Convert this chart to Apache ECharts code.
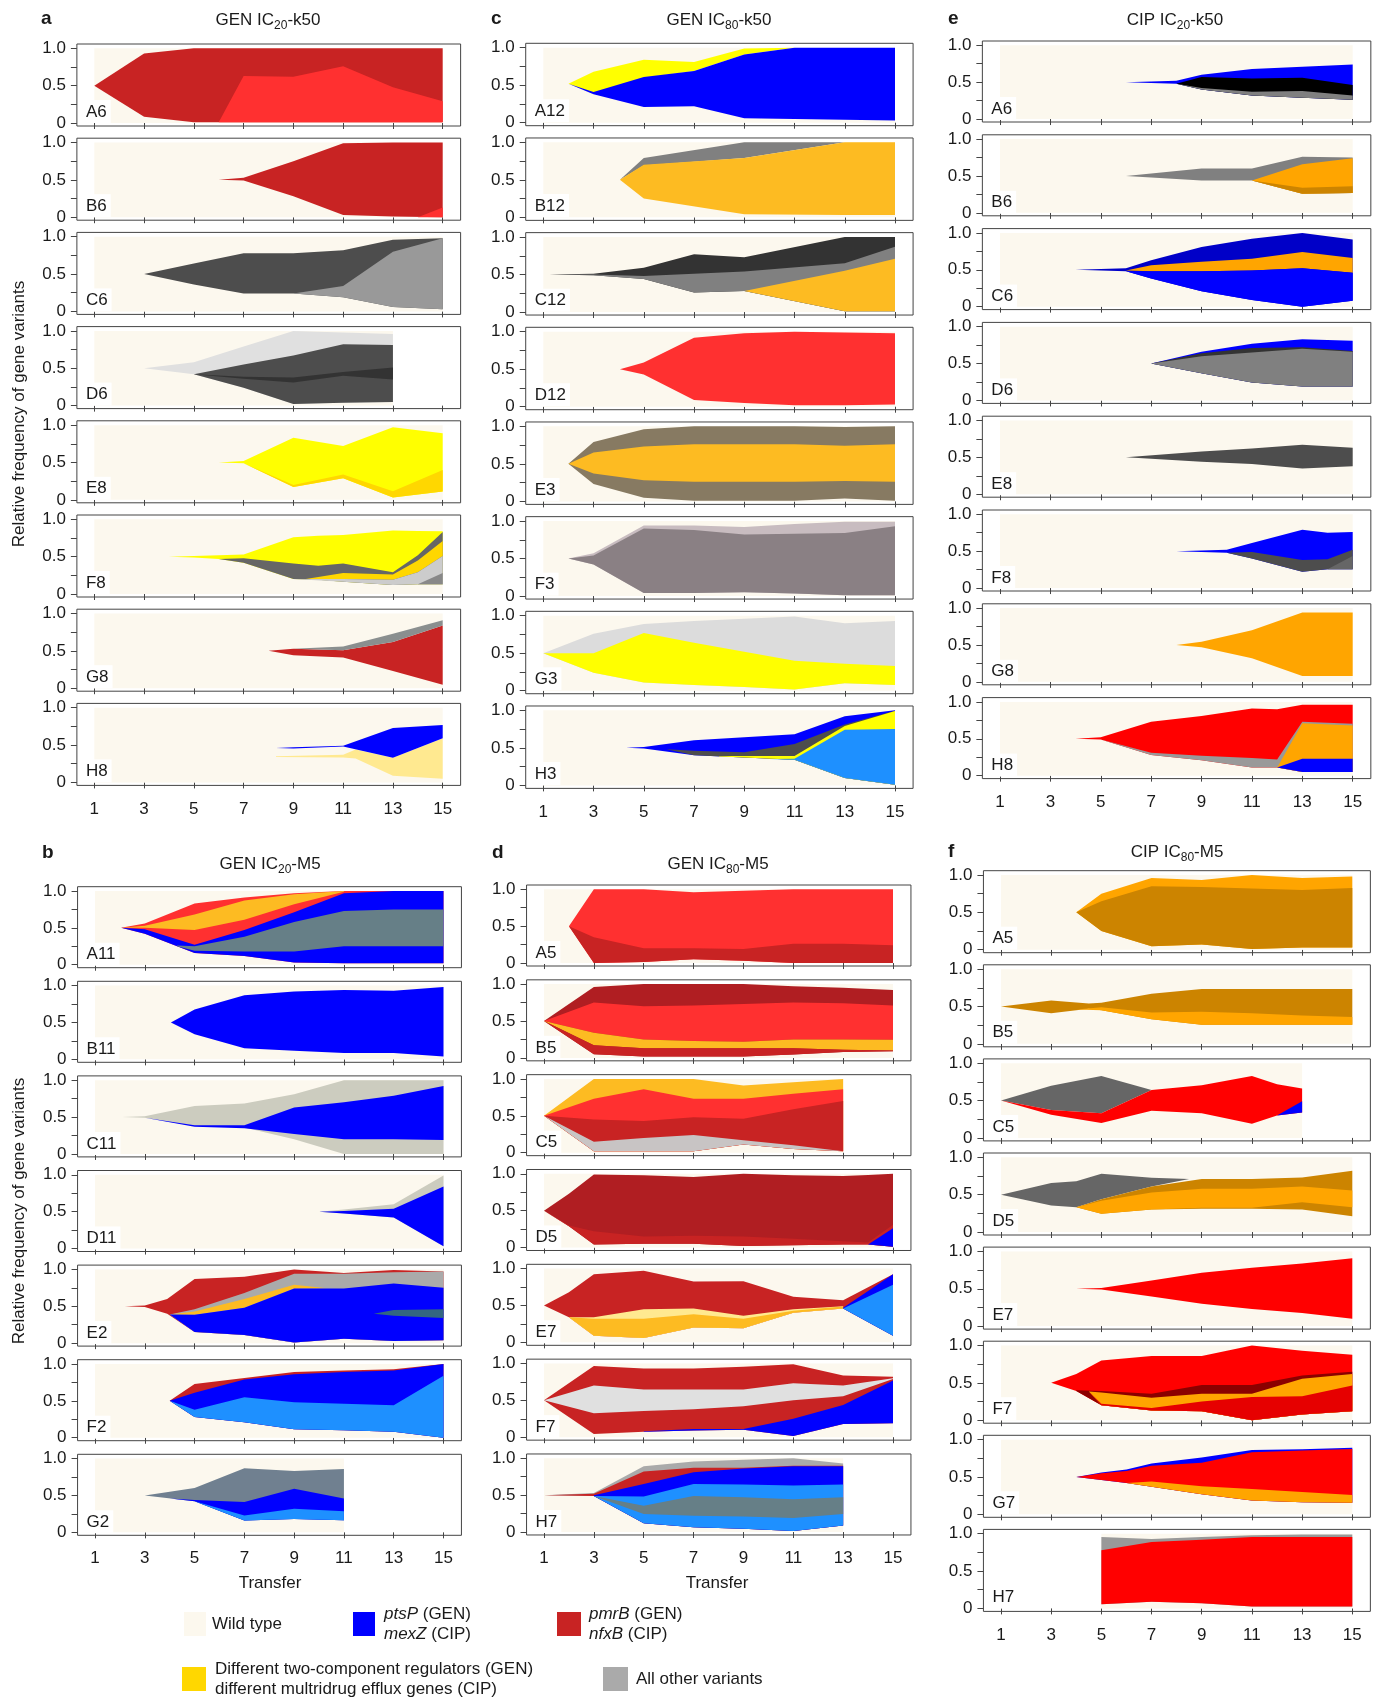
<!DOCTYPE html>
<html><head><meta charset="utf-8">
<script src="https://cdn.jsdelivr.net/npm/echarts@6/dist/echarts.min.js"></script>
<style>html,body{margin:0;padding:0;background:#fff;}#chart{width:1379px;height:1697px;}</style>
</head><body><div id="chart"></div>
<script>
// ---------- axis values ----------
const TRANSFERS = [1,3,5,7,9,11,13,15];
const FREQ_TICKS = [0,0.25,0.5,0.75,1];
const FREQ_LABELS = [0,0.5,1];

// ---------- panel data: band = [variant, transfers, lower freq, upper freq] ----------
// a: GEN IC20-k50
const a_A6 = {label:'A6', wt:[1,15], bands:[
 ['dred',[1,3,5,6,7,9,11,13,15],[0.5,0.085,0.01,0.01,0.01,0.01,0.01,0.01,0.01],[0.5,0.93,1,1,1,1,1,1,1]],
 ['red',[6,7,9,11,13,15],[0.01,0.01,0.01,0.01,0.01,0.01],[0.01,0.63,0.62,0.76,0.48,0.29]]]};
const a_B6 = {label:'B6', wt:[1,15], bands:[
 ['dred',[6,7,9,11,13,15],[0.5,0.49,0.28,0.03,0.01,0],[0.5,0.53,0.75,0.99,1,1]],
 ['red',[14,15],[0,0],[0,0.13]]]};
const a_C6 = {label:'C6', wt:[1,15], bands:[
 ['dgrey',[3,5,7,9,11,13,15],[0.5,0.36,0.24,0.24,0.19,0.06,0.03],[0.5,0.64,0.78,0.78,0.82,0.96,0.98]],
 ['grey9',[9,11,13,15],[0.24,0.19,0.06,0.03],[0.24,0.34,0.8,0.98]]]};
const a_D6 = {label:'D6', wt:[1,13], bands:[
 ['vlgrey',[3,5,7,9,11,13],[0.5,0.42,0.24,0.02,0.04,0.05],[0.5,0.58,0.79,1.0,0.98,0.96]],
 ['dgrey',[5,7,9,11,13],[0.42,0.24,0.02,0.04,0.05],[0.42,0.55,0.67,0.82,0.81]],
 ['vdgrey',[5,7,9,11,13],[0.42,0.36,0.31,0.40,0.35],[0.42,0.385,0.375,0.45,0.51]]]};
const a_E8 = {label:'E8', wt:[1,15], bands:[
 ['yellow',[6,7,9,11,13,15],[0.5,0.49,0.17,0.29,0.03,0.11],[0.5,0.52,0.83,0.72,0.97,0.89]],
 ['gold',[7,9,11,13,15],[0.49,0.17,0.29,0.03,0.11],[0.49,0.2,0.34,0.115,0.4]]]};
const a_F8 = {label:'F8', wt:[1,15], bands:[
 ['yellow',[4,5,6,7,9,10,11,13,14,15],[0.5,0.49,0.47,0.42,0.2,0.19,0.165,0.12,0.13,0.13],[0.5,0.51,0.52,0.53,0.76,0.78,0.79,0.85,0.845,0.84]],
 ['dgrey6',[6,7,9,10,11,13,14,15],[0.47,0.42,0.2,0.19,0.165,0.12,0.13,0.13],[0.47,0.48,0.41,0.38,0.41,0.29,0.52,0.83]],
 ['gold',[9.5,11,13,14,15],[0.2,0.2,0.19,0.29,0.51],[0.2,0.28,0.26,0.45,0.71]],
 ['lgrey',[9,11,13,14,15],[0.2,0.165,0.12,0.13,0.13],[0.2,0.2,0.19,0.29,0.51]],
 ['mgrey',[14,15],[0.13,0.13],[0.13,0.28]]]};
const a_G8 = {label:'G8', wt:[1,15], bands:[
 ['dred',[8,9,11,13,15],[0.5,0.44,0.41,0.23,0.045],[0.5,0.53,0.51,0.62,0.84]],
 ['ggrey',[9,11,13,15],[0.53,0.51,0.62,0.84],[0.53,0.56,0.73,0.91]]]};
const a_H8 = {label:'H8', wt:[1,15], bands:[
 ['lyellow',[8.3,11,11.5,13,15],[0.34,0.335,0.32,0.09,0.05],[0.35,0.37,0.44,0.33,0.59]],
 ['blue',[8.3,9,11,13,15],[0.46,0.455,0.48,0.33,0.59],[0.46,0.47,0.49,0.73,0.77]]]};

// c: GEN IC80-k50
const c_A12 = {label:'A12', wt:[1,15], bands:[
 ['yellow',[2,3,5,7,9,11],[0.52,0.4,0.6,0.69,0.91,1.0],[0.52,0.68,0.84,0.81,0.99,1.0]],
 ['blue',[2,3,5,7,9,11,13,15],[0.52,0.38,0.21,0.22,0.06,0.05,0.04,0.03],[0.52,0.41,0.61,0.69,0.91,1,1,1]]]};
const c_B12 = {label:'B12', wt:[1,15], bands:[
 ['grey',[4.05,5,9,13],[0.5,0.69,0.79,1.0],[0.5,0.79,1.0,1.0]],
 ['gold2',[4.05,5,9,13,15],[0.5,0.25,0.04,0.03,0.03],[0.5,0.7,0.79,1.0,1.0]]]};
const c_C12 = {label:'C12', wt:[1,15], bands:[
 ['vdgrey',[1.25,3,5,7,9,13,15],[0.5,0.49,0.44,0.26,0.28,0.01,0.01],[0.5,0.51,0.59,0.77,0.73,1.0,1.0]],
 ['grey',[1.25,3,5,7,9,13,15],[0.5,0.49,0.44,0.26,0.28,0.01,0.01],[0.5,0.5,0.48,0.51,0.54,0.65,0.87]],
 ['gold2',[9,13,15],[0.28,0.01,0.01],[0.28,0.55,0.71]]]};
const c_D12 = {label:'D12', wt:[1,15], bands:[
 ['red',[4.05,5,7,9,11,13,15],[0.5,0.43,0.09,0.05,0.02,0.02,0.03],[0.5,0.59,0.92,0.98,1.0,0.99,0.98]]]};
const c_E3 = {label:'E3', wt:[1,15], bands:[
 ['brown',[2,3,5,7,9,11,13,15],[0.5,0.23,0.05,0.01,0.01,0.01,0.04,0.01],[0.5,0.79,0.96,1,1,1,0.99,1]],
 ['gold2',[2,3,5,7,9,11,13,15],[0.5,0.37,0.28,0.26,0.26,0.26,0.27,0.26],[0.5,0.65,0.73,0.76,0.76,0.76,0.74,0.76]]]};
const c_F3 = {label:'F3', wt:[1,15], bands:[
 ['lmauve',[2,3,5,7,9,11,13,15],[0.5,0.42,0.04,0.04,0.05,0.035,0.01,0.01],[0.5,0.57,0.94,0.94,0.92,0.96,0.99,0.99]],
 ['mauve',[2,3,5,7,9,11,13,15],[0.5,0.42,0.04,0.04,0.05,0.035,0.01,0.01],[0.5,0.54,0.9,0.88,0.82,0.83,0.84,0.93]]]};
const c_G3 = {label:'G3', wt:[1,15], bands:[
 ['lgrey2',[1,3,5,7,9,11,13,15],[0.5,0.24,0.11,0.075,0.05,0.015,0.1,0.075],[0.5,0.76,0.89,0.93,0.96,0.99,0.9,0.93]],
 ['yellow',[1,3,5,7,9,11,13,15],[0.5,0.24,0.11,0.075,0.05,0.015,0.1,0.075],[0.5,0.5,0.77,0.64,0.52,0.4,0.36,0.33]]]};
const c_H3 = {label:'H3', wt:[1,15], bands:[
 ['blue',[4.3,5,7,9,11,13,15],[0.5,0.49,0.4,0.37,0.34,0.1,0.01],[0.5,0.51,0.6,0.64,0.68,0.92,1.0]],
 ['dgrey',[5.9,7,9,11,13,15],[0.48,0.4,0.37,0.34,0.1,0.01],[0.48,0.46,0.44,0.55,0.81,0.995]],
 ['yellow',[8,9,11,13,15],[0.385,0.37,0.34,0.1,0.01],[0.39,0.39,0.39,0.79,0.99]],
 ['lblue',[10,11,13,15],[0.35,0.34,0.1,0.01],[0.35,0.355,0.74,0.75]]]};

// e: CIP IC20-k50
const e_A6 = {label:'A6', wt:[1,15], bands:[
 ['blue',[6,7,8,9,11,13,15],[0.5,0.49,0.48,0.4,0.32,0.29,0.26],[0.5,0.51,0.52,0.6,0.68,0.71,0.74]],
 ['black',[8,9,11,13,15],[0.48,0.4,0.32,0.29,0.26],[0.48,0.57,0.55,0.56,0.46]],
 ['grey',[8,9,11,13,15],[0.48,0.4,0.32,0.29,0.26],[0.48,0.42,0.37,0.38,0.32]]]};
const e_B6 = {label:'B6', wt:[1,15], bands:[
 ['grey',[6,9,11,13,15],[0.5,0.44,0.44,0.26,0.27],[0.5,0.6,0.6,0.76,0.75]],
 ['orange',[11,13,15],[0.44,0.26,0.27],[0.44,0.66,0.74]],
 ['dorange',[11,13,15],[0.44,0.26,0.27],[0.44,0.34,0.36]]]};
const e_C6 = {label:'C6', wt:[1,15], bands:[
 ['dblue',[4,6,7,9,11,13,15],[0.5,0.48,0.38,0.21,0.09,0.0,0.08],[0.5,0.52,0.63,0.81,0.92,1.0,0.91]],
 ['orange',[6,7,9,11,13,15],[0.49,0.48,0.48,0.49,0.52,0.46],[0.49,0.56,0.61,0.65,0.74,0.66]],
 ['blue',[6,7,9,11,13,15],[0.48,0.38,0.21,0.09,0.0,0.08],[0.48,0.48,0.48,0.49,0.52,0.46]]]};
const e_D6 = {label:'D6', wt:[1,15], bands:[
 ['blue',[7,9,11,13,15],[0.5,0.37,0.245,0.19,0.19],[0.5,0.66,0.77,0.83,0.81]],
 ['vdgrey',[7,9,11,13,15],[0.5,0.37,0.245,0.19,0.19],[0.5,0.64,0.71,0.72,0.67]],
 ['grey',[7,9,11,13,15],[0.5,0.37,0.245,0.19,0.19],[0.5,0.6,0.65,0.7,0.66]]]};
const e_E8 = {label:'E8', wt:[1,15], bands:[
 ['dgrey',[6,9,11,13,15],[0.5,0.44,0.41,0.35,0.38],[0.5,0.58,0.62,0.67,0.63]]]};
const e_F8 = {label:'F8', wt:[1,15], bands:[
 ['blue',[8,10,11,13,14,15],[0.5,0.48,0.4,0.22,0.255,0.255],[0.5,0.52,0.61,0.79,0.75,0.76]],
 ['dgrey',[10,11,13,14,15],[0.48,0.4,0.22,0.255,0.255],[0.48,0.49,0.38,0.39,0.52]],
 ['dgrey6',[14,15],[0.255,0.255],[0.255,0.435]]]};
const e_G8 = {label:'G8', wt:[1,15], bands:[
 ['orange',[8,9,11,13,15],[0.5,0.47,0.32,0.08,0.08],[0.5,0.545,0.7,0.94,0.94]]]};
const e_H8 = {label:'H8', wt:[1,15], bands:[
 ['cred',[4,5,7,9,11,12,13,15],[0.5,0.49,0.28,0.21,0.11,0.11,0.05,0.05],[0.5,0.52,0.73,0.81,0.91,0.9,0.96,0.96]],
 ['grey9',[5,7,9,11,12,13,15],[0.49,0.28,0.21,0.11,0.11,0.05,0.05],[0.49,0.31,0.27,0.24,0.22,0.73,0.705]],
 ['orange',[12,13,15],[0.11,0.05,0.05],[0.11,0.71,0.68]],
 ['blue',[12,13,15],[0.11,0.05,0.05],[0.11,0.23,0.23]]]};

// b: GEN IC20-M5
const b_A11 = {label:'A11', wt:[1,15], bands:[
 ['red',[2.05,3,5,7,9,11,13,15],[0.5,0.42,0.16,0.12,0.03,0.02,0.02,0.02],[0.5,0.56,0.83,0.91,0.97,1,1,1]],
 ['gold2',[2.05,3,5,7,9,11],[0.5,0.5,0.47,0.61,0.82,0.99],[0.5,0.53,0.68,0.87,0.955,1.0]],
 ['blue',[2.05,3,5,7,9,11,13,15],[0.5,0.42,0.16,0.12,0.03,0.02,0.02,0.02],[0.5,0.48,0.27,0.47,0.71,0.97,1,1]],
 ['teal',[4.3,5,7,9,11,13,15],[0.25,0.19,0.18,0.18,0.25,0.25,0.25],[0.26,0.25,0.38,0.58,0.73,0.75,0.75]]]};
const b_B11 = {label:'B11', wt:[1,15], bands:[
 ['blue',[4.05,5,7,9,11,13,15],[0.5,0.34,0.15,0.115,0.085,0.085,0.04],[0.5,0.675,0.87,0.92,0.94,0.93,0.98]]]};
const b_C11 = {label:'C11', wt:[1,15], bands:[
 ['beige',[2.1,3,5,7,9,11,13,15],[0.5,0.49,0.38,0.36,0.2,0,0,0],[0.5,0.51,0.65,0.685,0.81,1,1,1]],
 ['blue',[3,5,7,9,11,13,15],[0.49,0.37,0.35,0.27,0.2,0.2,0.19],[0.49,0.39,0.39,0.63,0.7,0.79,0.92]]]};
const b_D11 = {label:'D11', wt:[1,15], bands:[
 ['beige',[10,11,13,15],[0.5,0.475,0.42,0.03],[0.5,0.53,0.6,0.99]],
 ['blue',[10,11,13,15],[0.5,0.475,0.42,0.03],[0.5,0.51,0.54,0.84]]]};
const b_E2 = {label:'E2', wt:[1,15], bands:[
 ['dred',[2.2,3,3.9,5,7,9,11,13,15],[0.5,0.49,0.4,0.15,0.11,0.01,0.06,0.03,0.04],[0.5,0.51,0.6,0.87,0.9,1.0,0.95,0.99,0.97]],
 ['greyA',[4,5,7,9,11,13,15],[0.39,0.15,0.11,0.01,0.06,0.03,0.04],[0.39,0.46,0.68,0.94,0.94,0.96,0.97]],
 ['gold2',[4,5,7,9,10.3],[0.39,0.385,0.48,0.74,0.745],[0.39,0.43,0.6,0.79,0.745]],
 ['blue',[4,5,7,9,11,13,15],[0.39,0.15,0.11,0.01,0.06,0.03,0.04],[0.39,0.385,0.48,0.74,0.74,0.81,0.75]],
 ['dteal',[12.2,13,15],[0.4,0.37,0.34],[0.4,0.45,0.46]]]};
const b_F2 = {label:'F2', wt:[1,15], bands:[
 ['dred',[4,5,7,9,11,13,15],[0.5,0.28,0.21,0.115,0.1,0.08,0.0],[0.5,0.73,0.81,0.89,0.91,0.93,1.0]],
 ['blue',[4,5,7,9,11,13,15],[0.5,0.28,0.21,0.115,0.1,0.08,0.0],[0.5,0.61,0.79,0.86,0.89,0.91,1.0]],
 ['lblue',[4,5,7,9,11,13,15],[0.5,0.28,0.21,0.115,0.1,0.08,0.0],[0.5,0.38,0.55,0.48,0.46,0.44,0.84]]]};
const b_G2 = {label:'G2', wt:[1,11], bands:[
 ['slate',[3,5,7,9,11],[0.5,0.42,0.16,0.18,0.165],[0.5,0.6,0.87,0.83,0.86]],
 ['blue',[4,5,7,9,11],[0.46,0.42,0.16,0.18,0.165],[0.46,0.44,0.41,0.59,0.46]],
 ['lblue',[5,7,9,11],[0.42,0.16,0.18,0.165],[0.42,0.23,0.32,0.285]]]};

// d: GEN IC80-M5
const d_A5 = {label:'A5', wt:[1,15], bands:[
 ['red',[2,3,5,7,9,11,13,15],[0.5,0,0.015,0.05,0.03,0,0,0],[0.5,1,1,0.96,0.98,1,1,1]],
 ['dred',[2,3,5,7,9,11,13,15],[0.5,0,0.015,0.05,0.03,0,0,0],[0.5,0.35,0.2,0.2,0.19,0.26,0.26,0.24]]]};
const d_B5 = {label:'B5', wt:[1,15], bands:[
 ['ddred',[1,3,5,7,9,11,13,15],[0.5,0.05,0.02,0.02,0.02,0.045,0.08,0.09],[0.5,0.96,1,1,1,0.97,0.95,0.92]],
 ['red',[1,3,5,7,9,11,13,15],[0.5,0.34,0.25,0.23,0.22,0.25,0.25,0.245],[0.5,0.75,0.7,0.71,0.73,0.75,0.74,0.71]],
 ['gold2',[1,3,5,7,9,11,13,15],[0.5,0.17,0.13,0.13,0.13,0.13,0.11,0.1],[0.5,0.34,0.25,0.23,0.22,0.25,0.25,0.245]],
 ['dred',[1,3,5,7,9,11,13,15],[0.5,0.05,0.02,0.02,0.02,0.045,0.08,0.09],[0.5,0.17,0.13,0.13,0.13,0.13,0.11,0.1]]]};
const d_C5 = {label:'C5', wt:[1,13], bands:[
 ['gold2',[1,3,5,7,9,11,13],[0.5,0.02,0.02,0.02,0.11,0.05,0.02],[0.5,1,1,1,0.91,0.955,1]],
 ['red',[1,3,5,7,9,11,13],[0.5,0.02,0.02,0.02,0.11,0.05,0.02],[0.5,0.73,0.86,0.73,0.73,0.8,0.86]],
 ['dred',[1,3,5,7,9,11,13],[0.5,0.02,0.02,0.02,0.11,0.05,0.02],[0.5,0.45,0.43,0.48,0.46,0.59,0.7]],
 ['lgrey3',[1,3,5,7,9,11,13],[0.5,0.02,0.02,0.02,0.11,0.05,0.02],[0.5,0.15,0.2,0.24,0.17,0.1,0.02]]]};
const d_D5 = {label:'D5', wt:[1,15], bands:[
 ['ddred',[1,2,3,5,7,9,11,13,14,15],[0.5,0.29,0.04,0.05,0.05,0.02,0.03,0.04,0.04,0.01],[0.5,0.73,0.99,0.98,0.955,1.0,0.98,0.97,0.985,1.0]],
 ['dred',[1,2,3,5,7,9,11,13,14,15],[0.5,0.29,0.04,0.05,0.05,0.02,0.03,0.04,0.04,0.01],[0.5,0.3,0.22,0.15,0.16,0.15,0.12,0.085,0.07,0.31]],
 ['blue',[14,15],[0.04,0.01],[0.04,0.26]]]};
const d_E7 = {label:'E7', wt:[1,15], bands:[
 ['dred',[1,2,3,5,7,9,11,13,15],[0.5,0.34,0.09,0.06,0.2,0.19,0.4,0.46,0.09],[0.5,0.68,0.925,0.97,0.825,0.83,0.62,0.57,0.925]],
 ['lyellow',[2,3,5,7,9,11,13],[0.34,0.09,0.06,0.2,0.19,0.4,0.46],[0.34,0.34,0.45,0.46,0.36,0.45,0.49]],
 ['gold2',[2,3,5,7,9,11,13],[0.34,0.09,0.06,0.2,0.19,0.4,0.46],[0.34,0.32,0.32,0.38,0.32,0.43,0.485]],
 ['blue',[13,15],[0.46,0.09],[0.47,0.925]],
 ['lblue',[13,15],[0.46,0.09],[0.46,0.78]]]};
const d_F7 = {label:'F7', wt:[1,15], bands:[
 ['dred',[1,3,5,7,9,11,13,15],[0.5,0.045,0.075,0.09,0.1,0.015,0.18,0.19],[0.5,0.965,0.93,0.93,0.955,0.99,0.835,0.82]],
 ['vlgrey',[1,3,5,7,9,11,13,15],[0.5,0.325,0.355,0.38,0.42,0.5,0.555,0.79],[0.5,0.7,0.645,0.645,0.645,0.73,0.7,0.8]],
 ['blue',[5,7,9,11,13,15],[0.075,0.09,0.1,0.015,0.18,0.19],[0.08,0.11,0.11,0.25,0.435,0.77]]]};
const d_H7 = {label:'H7', wt:[1,13], bands:[
 ['greyA',[1,3,5,7,9,11,13],[0.5,0.49,0.12,0.065,0.045,0.015,0.09],[0.5,0.53,0.89,0.955,0.98,1.0,0.93]],
 ['dred',[1,3,5,7,9,11,13],[0.5,0.49,0.12,0.065,0.045,0.015,0.09],[0.5,0.52,0.82,0.87,0.87,0.9,0.9]],
 ['blue',[3,5,7,9,11,13],[0.49,0.12,0.065,0.045,0.015,0.09],[0.5,0.65,0.81,0.86,0.89,0.89]],
 ['lblue',[3,5,7,9,11,13],[0.49,0.12,0.065,0.045,0.015,0.09],[0.49,0.48,0.65,0.645,0.63,0.645]],
 ['teal',[3,5,7,9,11,13],[0.49,0.245,0.22,0.21,0.19,0.245],[0.49,0.355,0.49,0.47,0.445,0.47]]]};

// f: CIP IC80-M5
const f_A5 = {label:'A5', wt:[1,15], bands:[
 ['orange',[4,5,7,9,11,13,15],[0.5,0.25,0.045,0.07,0.01,0.03,0.03],[0.5,0.75,0.96,0.935,1.0,0.96,0.98]],
 ['dorange',[4,5,7,9,11,13,15],[0.5,0.25,0.045,0.07,0.01,0.03,0.03],[0.5,0.65,0.85,0.84,0.82,0.8,0.825]]]};
const f_B5 = {label:'B5', wt:[1,15], bands:[
 ['dorange',[1,3,4.5,5,7,9,11,13,15],[0.5,0.41,0.47,0.45,0.33,0.255,0.255,0.255,0.255],[0.5,0.58,0.54,0.55,0.67,0.735,0.735,0.735,0.735]],
 ['orange',[4,5,7,9,11,13,15],[0.46,0.45,0.33,0.255,0.255,0.255,0.255],[0.46,0.49,0.42,0.43,0.41,0.38,0.36]]]};
const f_C5 = {label:'C5', wt:[1,13], bands:[
 ['dgrey6',[1,3,5,7],[0.5,0.375,0.33,0.64],[0.5,0.7,0.83,0.64]],
 ['cred',[1,3,5,7,9,11,12,13],[0.5,0.31,0.2,0.365,0.33,0.19,0.3,0.34],[0.5,0.375,0.33,0.64,0.705,0.83,0.72,0.66]],
 ['blue',[12,13],[0.3,0.34],[0.3,0.49]]]};
const f_D5 = {label:'D5', wt:[1,15], bands:[
 ['dgrey6',[1,3,4,5,7,8.5],[0.5,0.355,0.33,0.44,0.61,0.71],[0.5,0.655,0.68,0.78,0.725,0.71]],
 ['dorange',[4,5,7,9,11,13,15],[0.33,0.245,0.3,0.31,0.31,0.3,0.21],[0.33,0.44,0.61,0.71,0.71,0.73,0.82]],
 ['orange',[4,5,7,9,11,13,15],[0.33,0.245,0.3,0.325,0.325,0.4,0.33],[0.33,0.42,0.53,0.58,0.58,0.61,0.555]]]};
const f_E7 = {label:'E7', wt:[1,15], bands:[
 ['cred',[4,5,7,9,11,13,15],[0.5,0.49,0.395,0.3,0.23,0.175,0.1],[0.5,0.51,0.61,0.715,0.78,0.84,0.91]]]};
const f_F7 = {label:'F7', wt:[1,15], bands:[
 ['cred',[3,4,5,7,9,11,13,15],[0.5,0.39,0.2,0.13,0.12,0.0,0.075,0.12],[0.5,0.62,0.8,0.86,0.86,1.0,0.93,0.875]],
 ['dkred',[4,5,7,9,11,13,15],[0.39,0.2,0.13,0.12,0.0,0.075,0.12],[0.4,0.39,0.355,0.47,0.47,0.6,0.65]],
 ['orange',[4.5,5,7,9,11,13,15],[0.385,0.2,0.13,0.12,0.0,0.075,0.12],[0.385,0.37,0.3,0.355,0.355,0.555,0.62]],
 ['red2',[4.5,5,7,9,11,13,15],[0.385,0.2,0.13,0.12,0.0,0.075,0.12],[0.385,0.22,0.165,0.25,0.31,0.32,0.465]]]};
const f_G7 = {label:'G7', wt:[1,15], bands:[
 ['blue',[4,5,6,7,9,11,13,15],[0.5,0.46,0.42,0.37,0.27,0.185,0.16,0.155],[0.5,0.56,0.6,0.68,0.76,0.86,0.87,0.89]],
 ['cred',[4,5,6,7,9,11,13,15],[0.5,0.46,0.42,0.37,0.27,0.185,0.16,0.155],[0.5,0.55,0.58,0.65,0.69,0.83,0.855,0.875]],
 ['orange',[6,7,9,11,13,15],[0.42,0.37,0.27,0.185,0.16,0.155],[0.42,0.44,0.375,0.34,0.3,0.26]]]};
const f_H7 = {label:'H7', wt:[5,15], bands:[
 ['grey9',[5,7,9,11,13,15],[0.055,0.09,0.07,0.025,0.025,0.025],[0.955,0.93,0.955,0.98,0.99,0.99]],
 ['cred',[5,7,9,11,13,15],[0.055,0.09,0.07,0.025,0.025,0.025],[0.78,0.89,0.92,0.955,0.955,0.955]]]};

// ---------- styles ----------
const FONT = '"Liberation Sans", Arial, Helvetica, sans-serif';
const INK = '#1a1a1a';
const FRAME = '#444444';
const COLORS = {
  wt:'#FCF8EE', blue:'#0000FF', dblue:'#0000C8', lblue:'#1E90FF',
  red:'#FF3030', dred:'#C82323', ddred:'#B01E22', cred:'#FF0000', dkred:'#8B0000', red2:'#E60000',
  yellow:'#FFFF00', gold:'#FFD700', gold2:'#FDBB22', lyellow:'#FFE990', orange:'#FFA500', dorange:'#CC8400',
  black:'#000000', vdgrey:'#333333', dgrey:'#4D4D4D', dgrey6:'#666666', grey:'#808080', mgrey:'#888888',
  grey9:'#999999', greyA:'#AAAAAA', lgrey:'#CCCCCC', lgrey2:'#DCDCDC', vlgrey:'#E0E0E0', lgrey3:'#C8C4C4',
  teal:'#667F87', dteal:'#336680', slate:'#708090', beige:'#CCCCBF', brown:'#877A62',
  mauve:'#8A8084', lmauve:'#C8BCC0', ggrey:'#8A8F8F'
};
const XMIN = 0.3, XMAX = 15.72, YMIN = -0.04, YMAX = 1.058;

// ---------- layout (pixels) ----------
const COLUMNS = [
 {letter:'a', title:['GEN IC','20','-k50'], titleX:268, titleY:9, letterX:41, letterY:19, px1:94.3, px15:442.7, top0:44, pitch:94.2, h:82,
  panels:[a_A6,a_B6,a_C6,a_D6,a_E8,a_F8,a_G8,a_H8]},
 {letter:'c', title:['GEN IC','80','-k50'], titleX:719, titleY:9, letterX:491, letterY:19, px1:543.3, px15:895, top0:43.3, pitch:94.67, h:82.4,
  panels:[c_A12,c_B12,c_C12,c_D12,c_E3,c_F3,c_G3,c_H3]},
 {letter:'e', title:['CIP IC','20','-k50'], titleX:1175, titleY:9, letterX:948, letterY:19, px1:1000, px15:1352.7, top0:41, pitch:93.8, h:81,
  panels:[e_A6,e_B6,e_C6,e_D6,e_E8,e_F8,e_G8,e_H8]},
 {letter:'b', title:['GEN IC','20','-M5'], titleX:270, titleY:853, letterX:42, letterY:853, px1:95, px15:443.5, top0:886.7, pitch:94.6, h:81,
  panels:[b_A11,b_B11,b_C11,b_D11,b_E2,b_F2,b_G2], transfer:[270,1583]},
 {letter:'d', title:['GEN IC','80','-M5'], titleX:718, titleY:853, letterX:492, letterY:853, px1:544, px15:893, top0:885, pitch:94.83, h:81,
  panels:[d_A5,d_B5,d_C5,d_D5,d_E7,d_F7,d_H7], transfer:[717,1583]},
 {letter:'f', title:['CIP IC','80','-M5'], titleX:1177, titleY:841, letterX:948, letterY:852, px1:1001, px15:1352.3, top0:870.7, pitch:94.1, h:82,
  panels:[f_A5,f_B5,f_C5,f_D5,f_E7,f_F7,f_G7,f_H7]}
];

const grid=[], xAxis=[], yAxis=[], series=[], title=[], graphic=[];
let gi = 0;

// each band is one custom series; its rows [transfer, lower, upper] are mapped through the axes
function bandRenderer(color) {
  return function (params, api) {
    if (params.dataIndexInside !== 0) return null;
    const n = params.dataInsideLength;
    const upper = [], lower = [];
    for (let j = 0; j < n; j++) {
      const x = api.value(0, j);
      upper.push(api.coord([x, api.value(2, j)]));
      lower.push(api.coord([x, api.value(1, j)]));
    }
    return {type:'polygon', shape:{points: upper.concat(lower.reverse())}, style:{fill: color}};
  };
}
function addBand(band, g) {
  const [key, xs, lo, hi] = band;
  series.push({type:'custom', xAxisIndex:g, yAxisIndex:g, silent:true, animation:false,
    data: xs.map((x, k) => [x, lo[k], hi[k]]),
    encode:{x:0, y:[1,2]},
    renderItem: bandRenderer(COLORS[key])});
}

COLUMNS.forEach(col => {
  const u = (col.px15 - col.px1) / 14;
  const left = col.px1 - (1 - XMIN) * u;
  const width = (XMAX - XMIN) * u;
  col.panels.forEach((p, i) => {
    const top = col.top0 + i * col.pitch;
    const last = i === col.panels.length - 1;
    grid.push({left, top, width, height:col.h, show:true, borderColor:FRAME, borderWidth:1, backgroundColor:'transparent'});
    xAxis.push({type:'value', gridIndex:gi, min:XMIN, max:XMAX,
      axisLine:{show:false}, splitLine:{show:false},
      axisTick:{show:true, customValues:TRANSFERS, length:6, lineStyle:{color:FRAME, width:1}},
      axisLabel:{show:last, customValues:TRANSFERS, margin:15, fontSize:17, color:INK, fontFamily:FONT}});
    yAxis.push({type:'value', gridIndex:gi, min:YMIN, max:YMAX,
      axisLine:{show:false}, splitLine:{show:false},
      axisTick:{show:true, customValues:FREQ_TICKS, length:6, lineStyle:{color:FRAME, width:1}},
      axisLabel:{show:true, customValues:FREQ_LABELS, margin:11, fontSize:17, color:INK, fontFamily:FONT,
        formatter:v => v === 0 ? '0' : v.toFixed(1)}});
    addBand(['wt', [p.wt[0], p.wt[1]], [0,0], [1,1]], gi);
    p.bands.forEach(b => addBand(b, gi));
    title.push({text:p.label, left:left+5, top:top+56, padding:[3,4,2,4], backgroundColor:'#ffffff',
      textStyle:{fontSize:17, lineHeight:18, fontWeight:'normal', color:INK, fontFamily:FONT}, z:10});
    gi++;
  });
  title.push({text:'{n|'+col.title[0]+'}{s|'+col.title[1]+'}{n|'+col.title[2]+'}', left:col.titleX, top:col.titleY, textAlign:'center', padding:0,
    textStyle:{fontWeight:'normal', rich:{
      n:{fontSize:17, fontWeight:'normal', color:INK, fontFamily:FONT},
      s:{fontSize:12, fontWeight:'normal', color:INK, fontFamily:FONT, padding:[11,0,0,0]}}}});
  graphic.push({type:'text', x:col.letterX, y:col.letterY, style:{text:col.letter, fill:INK, font:'bold 19px '+FONT, align:'left', verticalAlign:'middle'}});
  if (col.transfer) {
    graphic.push({type:'text', x:col.transfer[0], y:col.transfer[1], style:{text:'Transfer', fill:INK, font:'17px '+FONT, align:'center', verticalAlign:'middle'}});
  }
});

// y-axis names
[414, 1211].forEach(y => graphic.push({type:'text', x:19, y, rotation:Math.PI/2,
  style:{text:'Relative frequency of gene variants', fill:INK, font:'17px '+FONT, align:'center', verticalAlign:'middle'}}));

// legend
const IT = 'italic 17px ' + FONT, RG = '17px ' + FONT;
const legendItems = [
  {c:COLORS.wt, r:[184,1612,22,24], t:'Wild type', tx:212, ty:1624},
  {c:COLORS.blue, r:[353,1612,22,24], t:'{i|ptsP}{n| (GEN)}\n{i|mexZ}{n| (CIP)}', tx:384, ty:1624},
  {c:COLORS.dred, r:[557,1612,24,24], t:'{i|pmrB}{n| (GEN)}\n{i|nfxB}{n| (CIP)}', tx:589, ty:1624},
  {c:COLORS.gold, r:[182,1667,24,24], t:'Different two-component regulators (GEN)\ndifferent multridrug efflux genes (CIP)', tx:215, ty:1679},
  {c:COLORS.greyA, r:[603,1667,25,24], t:'All other variants', tx:636, ty:1679}
];
legendItems.forEach(it => {
  graphic.push({type:'rect', shape:{x:it.r[0], y:it.r[1], width:it.r[2], height:it.r[3]}, style:{fill:it.c}});
  graphic.push({type:'text', x:it.tx, y:it.ty, style:{text:it.t, fill:INK, font:RG, lineHeight:20, align:'left', verticalAlign:'middle',
    rich:{i:{font:IT, fill:INK, lineHeight:20}, n:{font:RG, fill:INK, lineHeight:20}}}});
});

const chart = echarts.init(document.getElementById('chart'), null, {renderer:'canvas'});
chart.setOption({animation:false, backgroundColor:'#ffffff', grid, xAxis, yAxis, series, title, graphic});
</script>
</body></html>
